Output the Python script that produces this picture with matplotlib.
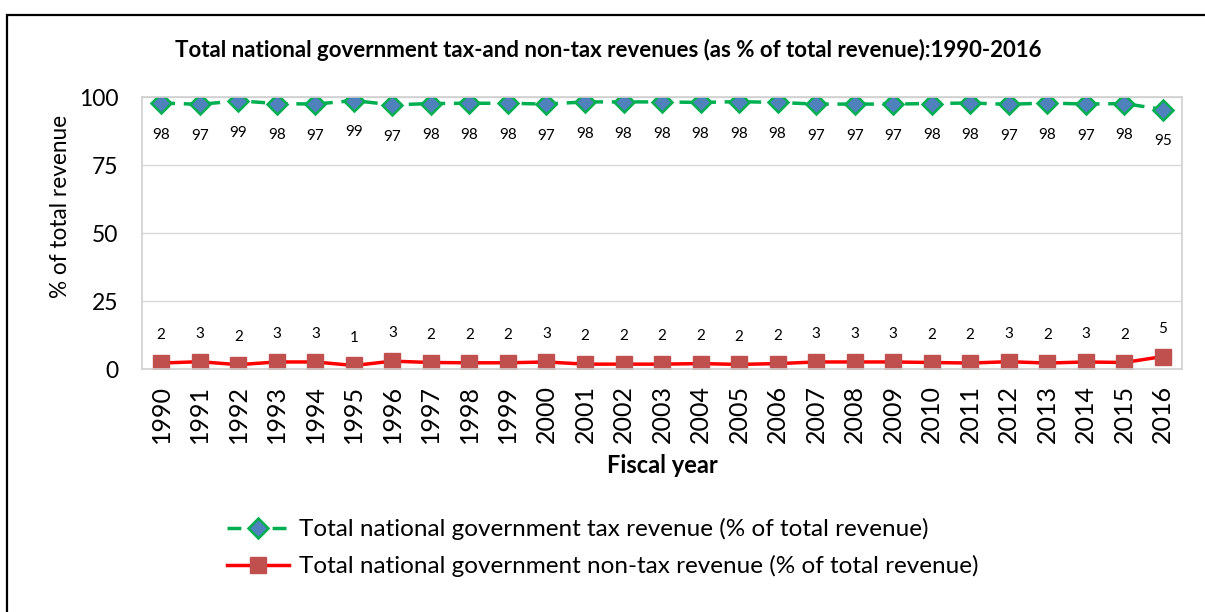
import matplotlib.pyplot as plt
from matplotlib.patches import Rectangle

plt.rcParams['font.family'] = ['Lato', 'DejaVu Sans']

years = [str(y) for y in range(1990, 2017)]
tax_revenue = [97.8, 97.3, 98.6, 97.6, 97.4, 98.7, 97.1, 97.6, 97.7, 97.7,
               97.4, 98.2, 98.2, 98.2, 98.0, 98.3, 98.0, 97.4, 97.4, 97.4,
               97.6, 97.8, 97.3, 97.8, 97.4, 97.6, 95.4]
nontax_revenue = [2.2, 2.7, 1.6, 2.6, 2.6, 1.3, 2.9, 2.4, 2.3, 2.3,
                  2.6, 1.8, 1.8, 1.8, 2.0, 1.7, 2.0, 2.6, 2.6, 2.6,
                  2.4, 2.2, 2.7, 2.2, 2.6, 2.4, 4.6]
y_ticks = [0, 25, 50, 75, 100]

fig = plt.figure(figsize=(12.05, 6.12), dpi=100)
ax = fig.add_axes([0.1178, 0.397, 0.8632, 0.4445])

x = range(len(years))
ax.plot(x, tax_revenue, color='#00B050', linestyle=(0, (4, 2.5)), linewidth=2.5,
        marker='D', markersize=10.5, markerfacecolor='#4F81BD',
        markeredgecolor='#00B050', markeredgewidth=1.8,
        label='Total national government tax revenue (% of total revenue)')
ax.plot(x, nontax_revenue, color='#FF0000', linewidth=2.5,
        marker='s', markersize=11, markerfacecolor='#C0504D',
        markeredgecolor='#C0504D',
        label='Total national government non-tax revenue (% of total revenue)')

# value labels: tax below the line, non-tax above it
for i, v in enumerate(tax_revenue):
    ax.annotate(f'{v:.0f}', (i, v), xytext=(0, -23), textcoords='offset points',
                ha='center', va='center', fontsize=11)
for i, v in enumerate(nontax_revenue):
    ax.annotate(f'{v:.0f}', (i, v), xytext=(0, 20), textcoords='offset points',
                ha='center', va='center', fontsize=11)

ax.set_xlim(-0.5, len(years) - 0.5)
ax.set_ylim(0, 100)
ax.set_xticks(list(x))
ax.set_xticklabels(years, rotation=90, fontsize=18)
ax.set_yticks(y_ticks)
ax.set_yticklabels([str(t) for t in y_ticks], fontsize=16.5)
ax.tick_params(axis='both', length=0)
ax.tick_params(axis='x', pad=11.5)
ax.tick_params(axis='y', pad=17)
ax.grid(axis='y', color='#D9D9D9', linewidth=1)
ax.set_axisbelow(True)
for s in ax.spines.values():
    s.set_color('#D0D0D0')
    s.set_linewidth(1.2)

ax.set_ylabel('% of total revenue', fontsize=16.3)
ax.yaxis.set_label_coords(-0.068, 0.596)
ax.set_xlabel('Fiscal year', fontsize=17, fontweight='bold', labelpad=8)
fig.text(0.505, 1 - 50 / 612,
         'Total national government tax-and non-tax revenues (as % of total revenue):1990-2016',
         ha='center', va='center', fontsize=16, fontweight='bold')

fig.legend(loc='center', bbox_to_anchor=(0.5, 0.105), ncol=1, frameon=False,
           fontsize=17.5, handlelength=2.55, handletextpad=0.4, labelspacing=0.6)

# outer frame of the figure panel
fig.patches.append(Rectangle((7 / 1205, -0.1), 1.1, 1 - 15 / 612 + 0.1,
                             transform=fig.transFigure, fill=False,
                             edgecolor='black', linewidth=1.6))

fig.savefig('out.png', dpi=100)
